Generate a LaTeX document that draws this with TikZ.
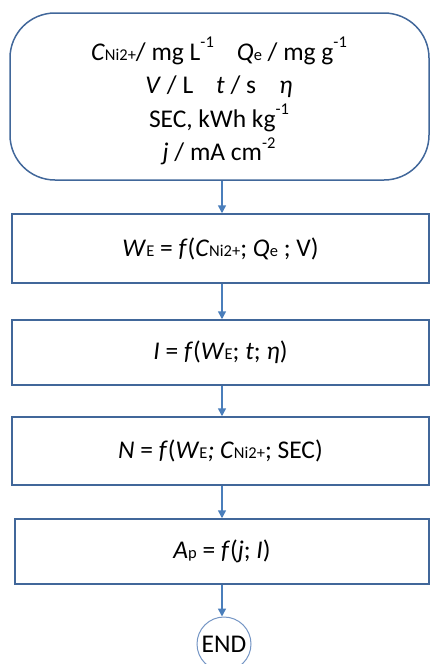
\documentclass[tikz,border=0pt]{standalone}
\usepackage{fontspec}
\setmainfont{Carlito}
\usetikzlibrary{arrows.meta}
\definecolor{boxblue}{HTML}{41679A}
\definecolor{arrblue}{HTML}{4A7EBB}
\definecolor{endblue}{HTML}{7495C4}
\newcommand\sbs[1]{{\fontsize{16.5}{16.5}\selectfont #1}}
\newcommand\sps[1]{\raisebox{0.5em}{\fontsize{16.5}{16.5}\selectfont #1}}
\begin{document}
\begin{tikzpicture}[x=1pt,y=-1pt,
  every node/.style={font=\fontsize{25.5}{33.5}\selectfont, align=center, inner sep=0pt},
  procbox/.style={draw=boxblue, line width=1.5pt, minimum height=#1, minimum width=417pt},
  arr/.style={draw=arrblue, line width=1.5pt, -{Triangle[width=8pt,length=8pt]}}]
\useasboundingbox (0,0) rectangle (430,664);
\node[draw=boxblue, line width=1.5pt, rounded corners=45pt, minimum width=419pt, minimum height=167pt] (top) at (219.5,96.5) {};
\node (toptext) at (219,101) {\textit{C}\sbs{Ni2+}/ mg L\sps{-1}\hspace{0.9em}\textit{Q}\sbs{e} / mg g\sps{-1}\\
\textit{V} / L\hspace{0.9em}\textit{t} / s\hspace{0.9em}\textit{η}\\
SEC, kWh kg\sps{-1}\\
\textit{j} / mA cm\sps{-2}};
\node[procbox=69pt] (b1) at (220.5,248.5) {\textit{W}\sbs{E} = \textit{f}(\textit{C}\sbs{Ni2+}; \textit{Q}\sbs{e} ; V)};
\node[procbox=65pt] (b2) at (220.5,352.5) {\textit{I} = \textit{f}(\textit{W}\sbs{E}; \textit{t}; \textit{η})};
\node[procbox=68pt] (b3) at (220.5,451) {\textit{N} = \textit{f}(\textit{W}\sbs{E}\textit{;} \textit{C}\sbs{Ni2+}; SEC)};
\node[procbox=65pt, minimum width=414pt] (b4) at (222,551.5) {\textit{A}\sbs{p} = \textit{f}(\textit{j}; \textit{I})};
\node[draw=endblue, line width=1pt, circle, minimum size=54pt] (end) at (224,644) {END};
\coordinate (ax) at (222,0);
\draw[arr] (top.south -| ax) -- (b1.north -| ax);
\draw[arr] (b1.south -| ax) -- (b2.north -| ax);
\draw[arr] (b2.south -| ax) -- (b3.north -| ax);
\draw[arr] (b3.south -| ax) -- (b4.north -| ax);
\draw[arr] (b4.south -| ax) -- (end.north -| ax);
\end{tikzpicture}
\end{document}
